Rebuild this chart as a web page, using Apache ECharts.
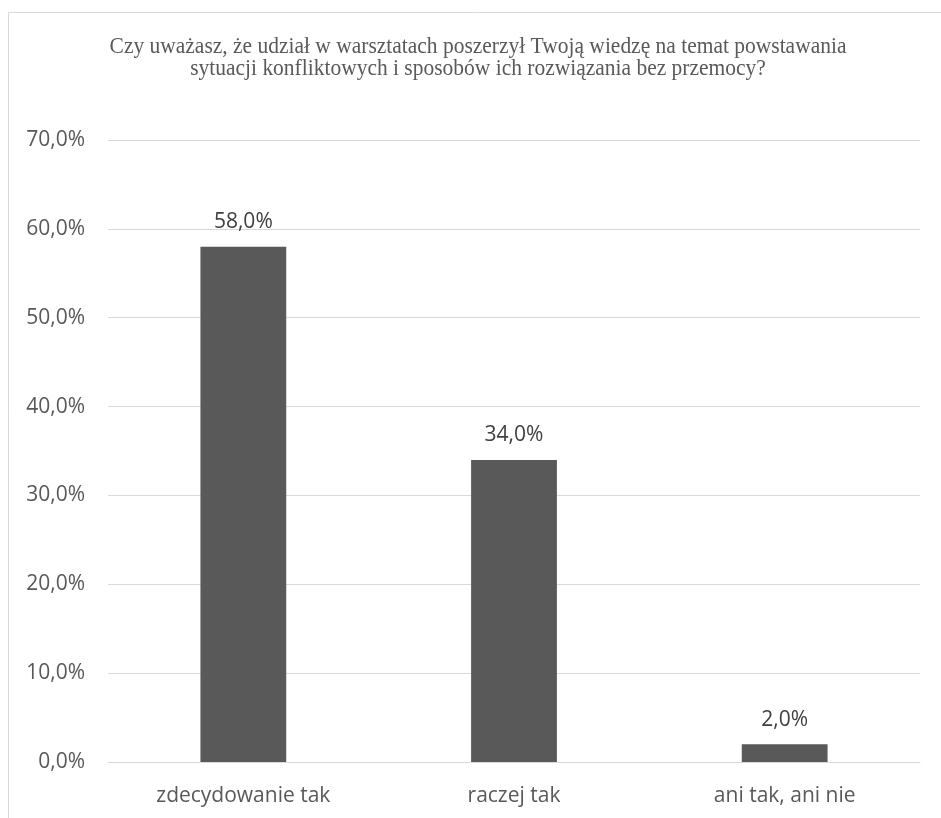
<!DOCTYPE html>
<html>
<head>
<meta charset="utf-8">
<script src="https://cdn.jsdelivr.net/npm/echarts@6/dist/echarts.min.js"></script>
<style>
  html, body { margin: 0; padding: 0; background: #ffffff; }
  #chart { width: 941px; height: 818px; }
</style>
</head>
<body>
<div id="chart"></div>
<script>
// Survey answers and their shares (percent)
const categories = ['zdecydowanie tak', 'raczej tak', 'ani tak, ani nie'];
const shares = [58.0, 34.0, 2.0];
const titleLines = [
  'Czy uważasz, że udział w warsztatach poszerzył Twoją wiedzę na temat powstawania',
  'sytuacji konfliktowych i sposobów ich rozwiązania bez przemocy?'
];

const fmtPct = v => v.toFixed(1).replace('.', ',') + '%';

// slightly condensed serif heading, one text element per line
const titleStyle = (text) => ({
  text: text,
  font: '24px "Liberation Serif"',
  fill: '#595959',
  align: 'center',
  verticalAlign: 'middle'
});

const chart = echarts.init(document.getElementById('chart'));
chart.setOption({
  animation: false,
  backgroundColor: '#ffffff',
  graphic: [
    {
      type: 'rect',
      shape: { x: 8.5, y: 12.5, width: 960, height: 840 },
      style: { fill: 'none', stroke: '#d9d9d9', lineWidth: 1 },
      silent: true
    },
    { type: 'text', x: 478, y: 47, scaleX: 0.895, style: titleStyle(titleLines[0]), silent: true },
    { type: 'text', x: 478, y: 69, scaleX: 0.895, style: titleStyle(titleLines[1]), silent: true }
  ],
  grid: { left: 108, right: 21, top: 140, bottom: 56 },
  xAxis: {
    type: 'category',
    data: categories,
    axisLine: { lineStyle: { color: '#d9d9d9', width: 1 } },
    axisTick: { show: false },
    axisLabel: {
      fontFamily: 'Open Sans',
      fontSize: 21,
      color: '#595959',
      margin: 24
    }
  },
  yAxis: {
    type: 'value',
    min: 0,
    max: 70,
    interval: 10,
    axisLine: { show: false },
    axisTick: { show: false },
    splitLine: { lineStyle: { color: '#d9d9d9', width: 1 } },
    axisLabel: {
      fontFamily: 'Open Sans',
      fontSize: 21,
      color: '#595959',
      margin: 23,
      formatter: v => fmtPct(v)
    }
  },
  series: [{
    type: 'bar',
    data: shares,
    barWidth: '31.7%',
    itemStyle: { color: '#595959' },
    label: {
      show: true,
      position: 'top',
      distance: 14,
      fontFamily: 'Open Sans',
      fontSize: 21,
      color: '#404040',
      formatter: p => fmtPct(p.value)
    }
  }]
});
</script>
</body>
</html>
